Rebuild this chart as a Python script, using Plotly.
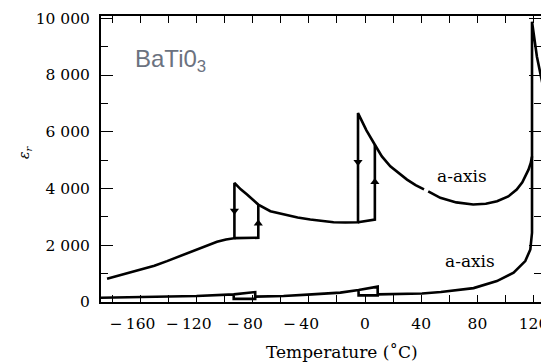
import plotly.graph_objects as go

# ---------------- data ----------------
# upper branch (a-axis, large values), main path; None = small gap near the label
up_T = [-183.7, -172, -160, -150, -141, -130, -117.3, -105.4, -99, -93,
        -93, -88.5, -84, -80, -76, -67.4, -58, -48, -39, -30, -22.4, -14, -5,
        -5, 1, 7, 12, 18, 24, 29.9, 36, 42, None,
        45, 53.6, 65, 77, 86, 94, 102, 108, 112, 116.4, 118, 118.9,
        118.9, 122.4, 126.5]
up_E = [822, 975, 1125, 1280, 1441, 1650, 1912, 2123, 2200, 2250,
        4197, 3970, 3786, 3600, 3434, 3199, 3083, 2980, 2907, 2850, 2812, 2800, 2812,
        6657, 6050, 5543, 5130, 4780, 4530, 4313, 4120, 3970, None,
        3900, 3670, 3510, 3434, 3460, 3550, 3720, 3961, 4220, 4664, 4900, 5132,
        9877, 8647, 7652]

# upper branch hysteresis returns (heating paths)
upret_T = [-93, -76, -76, None, -5, 7, 7]
upret_E = [2250, 2264, 3434, None, 2812, 2907, 5543]

# lower branch (a-axis, small values)
lo_T = [-188, -160, -120, -93.5, -78.2, -78.2, -93.5, -93.5, None,
        -78.2, -58, -37.8, -17.6, -4.6, 9, 9, -4.6, -4.6, None,
        9, 40.6, 54, 77.3, 93.9, 105.8, 114.1, 117.7, 118.9, 118.9]
lo_E = [150, 175, 211, 270, 350, 110, 110, 270, None,
        190, 211, 270, 330, 422, 541, 235, 235, 422, None,
        270, 300, 352, 490, 738, 1033, 1441, 1852, 2440, 5132]

# hysteresis arrows
arr_down_T = [-93, -5]
arr_down_E = [3220, 4930]
arr_up_T = [-76, 7]
arr_up_E = [2770, 4230]

x_ticks = [-160, -120, -80, -40, 0, 40, 80, 120]
x_ticktext = ["\u2212\u2009160\u2003", "\u2212\u2009120\u2003", "\u2212\u200980\u2003",
              "\u2212\u200940\u2003", "0", "40", "80", "120"]
x_minor = [-180, -140, -100, -60, -20, 20, 60, 100]
y_ticks = [0, 2000, 4000, 6000, 8000, 10000]
y_ticktext = ["0", "2 000", "4 000", "6 000", "8 000", "10 000"]
y_minor = [1000, 3000, 5000, 7000, 9000]

SERIF = "DejaVu Serif, Liberation Serif, serif"

# ---------------- figure ----------------
LW = 2.6
fig = go.Figure()
fig.add_trace(go.Scatter(x=up_T, y=up_E, mode="lines",
                         line=dict(color="black", width=LW), connectgaps=False,
                         hoverinfo="skip"))
fig.add_trace(go.Scatter(x=upret_T, y=upret_E, mode="lines",
                         line=dict(color="black", width=LW), connectgaps=False,
                         hoverinfo="skip"))
fig.add_trace(go.Scatter(x=lo_T, y=lo_E, mode="lines",
                         line=dict(color="black", width=LW), connectgaps=False,
                         hoverinfo="skip"))
fig.add_trace(go.Scatter(x=arr_down_T, y=arr_down_E, mode="markers",
                         marker=dict(symbol="triangle-down", size=8, color="black"),
                         hoverinfo="skip"))
fig.add_trace(go.Scatter(x=arr_up_T, y=arr_up_E, mode="markers",
                         marker=dict(symbol="triangle-up", size=8, color="black"),
                         hoverinfo="skip"))

tickfont = dict(family=SERIF, size=15.5, color="black")

# the page body has an 8px margin, so the figure is 541x354 placed at (8, 8)
fig.update_layout(
    width=541, height=354,
    margin=dict(l=93, r=8, t=8, b=60, autoexpand=False),
    paper_bgcolor="white", plot_bgcolor="white",
    showlegend=False,
    xaxis=dict(range=[-188, 125.3], showgrid=False, zeroline=False, automargin=False,
               showline=True, linecolor="black", linewidth=2, mirror="ticks",
               ticks="inside", ticklen=7, tickwidth=1.2, tickcolor="black",
               tickmode="array", tickvals=x_ticks, ticktext=x_ticktext, tickangle=0,
               tickfont=tickfont, ticklabelstandoff=6,
               minor=dict(ticks="inside", ticklen=7, tickwidth=1.2, tickcolor="black",
                          tickmode="array", tickvals=x_minor, showgrid=False)),
    yaxis=dict(range=[0, 10080], showgrid=False, zeroline=False, automargin=False,
               showline=True, linecolor="black", linewidth=2, mirror="ticks",
               ticks="inside", ticklen=12, tickwidth=1.2, tickcolor="black",
               tickmode="array", tickvals=y_ticks, ticktext=y_ticktext, tickangle=0,
               tickfont=tickfont, ticklabelstandoff=6,
               minor=dict(ticks="inside", ticklen=7, tickwidth=1.2, tickcolor="black",
                          tickmode="array", tickvals=y_minor, showgrid=False)),
)

fig.add_annotation(text="BaTi0<sub>3</sub>", xref="paper", yref="paper",
                   x=0.0727, y=0.846, xanchor="left", yanchor="middle", showarrow=False,
                   font=dict(family="Liberation Sans", size=24, color="#6b7280"))
fig.add_annotation(text="a-axis", xref="x", yref="y", x=69, y=4430,
                   showarrow=False, font=dict(family=SERIF, size=17, color="black"))
fig.add_annotation(text="a-axis", xref="x", yref="y", x=75, y=1441,
                   showarrow=False, font=dict(family=SERIF, size=17, color="black"))
fig.add_annotation(text="Temperature (\u02daC)", xref="paper", yref="paper",
                   x=0.547, y=-0.175, xanchor="center", yanchor="middle", showarrow=False,
                   font=dict(family=SERIF, size=17, color="black"))
fig.add_annotation(text="<i>\u03b5<sub>r</sub></i>", xref="paper", yref="paper",
                   x=-0.173, y=0.524, xanchor="center", yanchor="middle",
                   textangle=-90, showarrow=False,
                   font=dict(family=SERIF, size=14, color="black"))

fig.write_html("out.html")
